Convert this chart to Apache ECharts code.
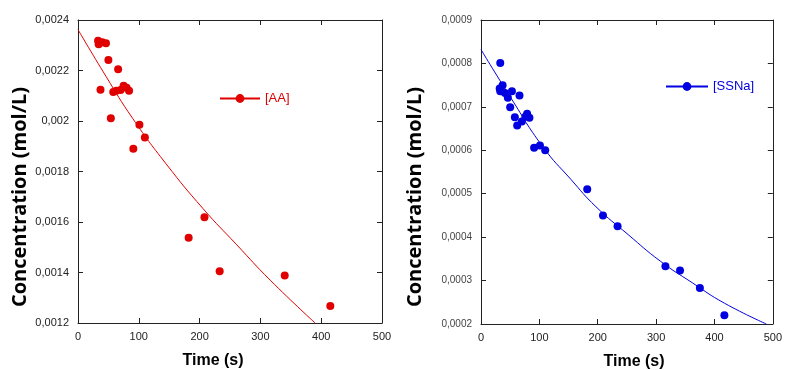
<!DOCTYPE html>
<html><head><meta charset="utf-8">
<script src="https://cdn.jsdelivr.net/npm/echarts@6/dist/echarts.min.js"></script>
<style>html,body{margin:0;padding:0;background:#fff}#c{width:785px;height:370px}</style>
</head><body><div id="c"></div>
<script>
// ---- data ----
const xTickValues = [0, 100, 200, 300, 400, 500];
const aaTime = [33, 34, 40, 46, 50, 66, 37, 58, 63, 70, 75, 80, 84, 54, 101, 110, 91, 182, 208, 233, 340, 415];
const aaConc = [0.002318, 0.002304, 0.002312, 0.002308, 0.002242, 0.002205, 0.002124, 0.002115, 0.00212, 0.002123, 0.00214, 0.002132, 0.00212, 0.002011, 0.001985, 0.001935, 0.00189, 0.001538, 0.001619, 0.001405, 0.001388, 0.001267];
const aaFitTime = [0, 46, 90, 145, 206, 261, 316, 390];
const aaFitConc = [0.002362, 0.002177, 0.00201, 0.00183, 0.001652, 0.00151, 0.00137, 0.0012];
const ssTime = [33, 37, 32, 33, 41, 53, 46, 66, 50, 58, 62, 70, 79, 76, 83, 91, 101, 110, 182, 209, 234, 316, 341, 375, 417];
const ssConc = [0.000801, 0.00075, 0.000742, 0.000736, 0.000732, 0.000736, 0.000721, 0.000726, 0.000699, 0.000676, 0.000657, 0.000666, 0.000684, 0.000677, 0.000675, 0.000606, 0.000611, 0.0006, 0.00051, 0.00045, 0.000425, 0.000333, 0.000323, 0.000283, 0.00022];
const ssFitTime = [0, 51, 106, 154, 197, 252, 307, 362, 417, 489];
const ssFitConc = [0.000832, 0.000721, 0.000608, 0.000533, 0.00047, 0.000406, 0.000345, 0.000295, 0.000248, 0.0002];
const seriesNames = ['[AA]', '[SSNa]'];
const axisTitles = { y: 'Concentration (mol/L)', x: 'Time (s)' };

const RED = '#e00000', BLUE = '#0000e0';
const zip = (a, b) => a.map((v, i) => [v, b[i]]);
const fmt = v => String(+(+v).toFixed(4)).replace('.', ',');

function xAx(gi, pos, show) {
  return { type: 'value', gridIndex: gi, position: pos, min: xTickValues[0], max: xTickValues[xTickValues.length - 1], interval: 100,
    axisLine: { show: true, onZero: false, lineStyle: { color: '#222', width: 1 } },
    axisTick: { show: true, inside: true, length: 5, lineStyle: { color: '#222' } },
    axisLabel: { show: show, color: '#222', fontSize: 11, fontFamily: 'Liberation Sans', margin: 8 },
    splitLine: { show: false } };
}
function yAx(gi, pos, show, min, max, step, lblColor, lblSize) {
  return { type: 'value', gridIndex: gi, position: pos, min: min, max: max, interval: step,
    axisLine: { show: true, onZero: false, lineStyle: { color: '#222', width: 1 } },
    axisTick: { show: true, inside: true, length: 5, lineStyle: { color: '#222' } },
    axisLabel: { show: show, color: lblColor, fontSize: lblSize, fontFamily: 'Liberation Sans', margin: 9, formatter: fmt },
    splitLine: { show: false } };
}

const chart = echarts.init(document.getElementById('c'));
chart.setOption({
  animation: false,
  grid: [
    { left: 78, top: 20, width: 304, height: 303 },
    { left: 481, top: 20, width: 302, height: 304 }
  ],
  xAxis: [xAx(0, 'bottom', true), xAx(0, 'top', false), xAx(1, 'bottom', true), xAx(1, 'top', false)],
  yAxis: [
    yAx(0, 'left', true, 0.0012, 0.0024, 0.0002, '#222', 11),
    yAx(0, 'right', false, 0.0012, 0.0024, 0.0002, '#222', 11),
    yAx(1, 'left', true, 0.0002, 0.0009, 0.0001, '#444', 10),
    yAx(1, 'right', false, 0.0002, 0.0009, 0.0001, '#444', 10)
  ],
  legend: [
    { data: [seriesNames[0]], left: 219, top: 92, padding: 0, itemWidth: 40, itemHeight: 11, itemGap: 5,
      textStyle: { color: RED, fontSize: 13, fontFamily: 'Liberation Sans' } },
    { data: [seriesNames[1]], left: 665, top: 80, padding: 0, itemWidth: 42, itemHeight: 11, itemGap: 3,
      textStyle: { color: BLUE, fontSize: 13, fontFamily: 'Liberation Sans' } }
  ],
  series: [
    { name: seriesNames[0], type: 'line', xAxisIndex: 0, yAxisIndex: 0, data: zip(aaFitTime, aaFitConc),
      showSymbol: false, symbol: 'circle', smooth: 0.5, color: RED, lineStyle: { color: RED, width: 1 } },
    { name: 'aaData', type: 'scatter', xAxisIndex: 0, yAxisIndex: 0, data: zip(aaTime, aaConc),
      symbol: 'circle', symbolSize: 8, itemStyle: { color: RED, opacity: 1 } },
    { name: seriesNames[1], type: 'line', xAxisIndex: 2, yAxisIndex: 2, data: zip(ssFitTime, ssFitConc),
      showSymbol: false, symbol: 'circle', smooth: 0.5, color: BLUE, lineStyle: { color: BLUE, width: 1 } },
    { name: 'ssData', type: 'scatter', xAxisIndex: 2, yAxisIndex: 2, data: zip(ssTime, ssConc),
      symbol: 'circle', symbolSize: 8, itemStyle: { color: BLUE, opacity: 1 } }
  ],
  graphic: [
    { type: 'text', x: 20, y: 197, rotation: Math.PI / 2,
      style: { text: axisTitles.y, fontSize: 20, fontWeight: 'bold', fontFamily: 'Open Sans', fill: '#000', align: 'center', verticalAlign: 'middle' } },
    { type: 'text', x: 415, y: 197, rotation: Math.PI / 2,
      style: { text: axisTitles.y, fontSize: 20, fontWeight: 'bold', fontFamily: 'Open Sans', fill: '#000', align: 'center', verticalAlign: 'middle' } },
    { type: 'text', x: 213, y: 361,
      style: { text: axisTitles.x, fontSize: 16, fontWeight: 'bold', fontFamily: 'Liberation Sans', fill: '#000', align: 'center', verticalAlign: 'middle' } },
    { type: 'text', x: 634, y: 362,
      style: { text: axisTitles.x, fontSize: 16, fontWeight: 'bold', fontFamily: 'Liberation Sans', fill: '#000', align: 'center', verticalAlign: 'middle' } }
  ]
});
</script></body></html>
